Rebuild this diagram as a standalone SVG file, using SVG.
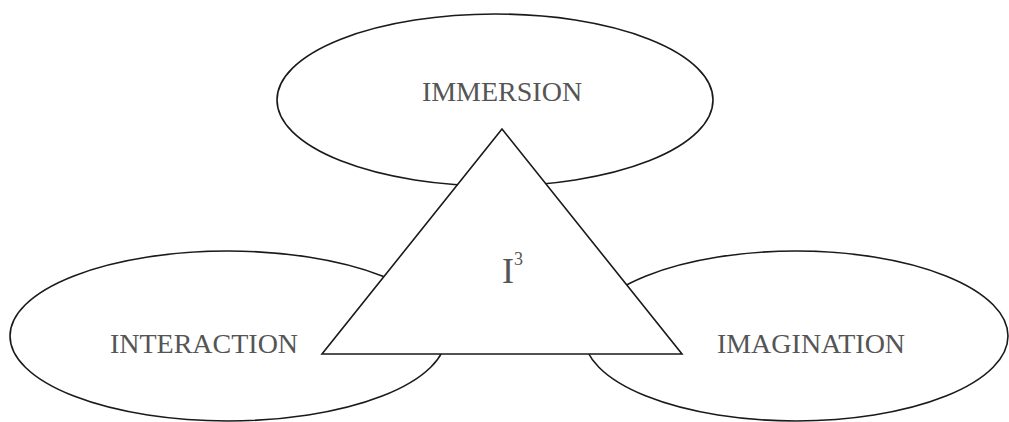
<svg xmlns="http://www.w3.org/2000/svg" width="1009" height="422" viewBox="0 0 1009 422">
<style>
.shape{fill:#fff;stroke:#1a1a1a;stroke-width:1.6}
.lbl{font-family:"Liberation Serif","Times New Roman",serif;font-size:28px;fill:#555;text-anchor:middle}
</style>
<rect width="1009" height="422" fill="#fff"/>
<g id="immersion">
<ellipse class="shape" cx="495" cy="100" rx="218" ry="86"/>
<text class="lbl" x="502" y="101">IMMERSION</text>
</g>
<g id="interaction">
<ellipse class="shape" cx="228" cy="336" rx="218" ry="85"/>
<text class="lbl" x="204" y="353">INTERACTION</text>
</g>
<g id="imagination">
<ellipse class="shape" cx="796" cy="336" rx="212" ry="85"/>
<text class="lbl" x="811" y="353">IMAGINATION</text>
</g>
<g id="i3">
<polygon class="shape" points="502,129 322,354 682,354"/>
<text x="502" y="283" font-family="Liberation Serif, Times New Roman, serif" font-size="36" fill="#555">I<tspan font-size="18" dy="-18">3</tspan></text>
</g>
<g id="connectors"></g>
</svg>
